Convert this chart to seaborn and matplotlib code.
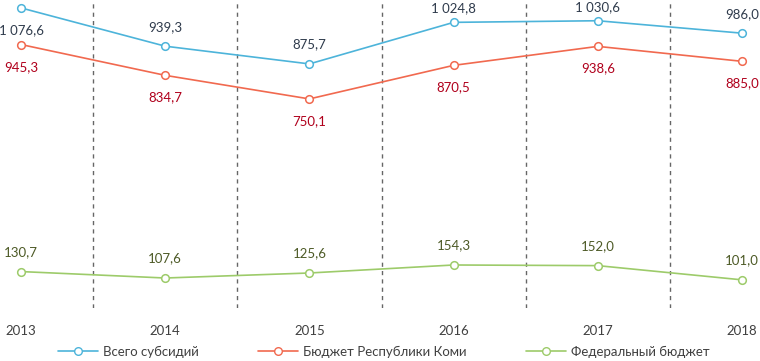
import matplotlib
matplotlib.use("Agg")
import matplotlib.pyplot as plt
import seaborn as sns
import pandas as pd
import numpy as np
from matplotlib.lines import Line2D

years = ["2013", "2014", "2015", "2016", "2017", "2018"]
total = [1076.6, 939.3, 875.7, 1024.8, 1030.6, 986.0]
komi = [945.3, 834.7, 750.1, 870.5, 938.6, 885.0]
federal = [130.7, 107.6, 125.6, 154.3, 152.0, 101.0]
series_names = ["Всего субсидий", "Бюджет Республики Коми", "Федеральный бюджет"]

line_colors = ["#4DB4DA", "#F1694F", "#9DCB6A"]
label_colors = ["#2F3B4C", "#B0001C", "#4D5A26"]

sns.set_theme(style="white")
plt.rcParams["font.family"] = ["Lato", "DejaVu Sans"]

rows = []
for name, vals in zip(series_names, [total, komi, federal]):
    for i, v in enumerate(vals):
        rows.append({"idx": i, "value": v, "series": name})
df = pd.DataFrame(rows)

fig = plt.figure(figsize=(7.6, 3.61), dpi=100)
ax = fig.add_axes([0, 1 - 308 / 361, 1, 308 / 361])

sns.lineplot(data=df, x="idx", y="value", hue="series", hue_order=series_names,
             palette=line_colors, marker="o", markersize=5.5, markerfacecolor="white",
             markeredgewidth=1.1, linewidth=1.2, ax=ax, legend=False)
for ln, c in zip(ax.lines, line_colors):
    ln.set_markeredgecolor(c)

ax.set_xlim(-21 / 144.2, 5 + 18 / 144.2)
ax.set_ylim(0, 1105)

for k in range(5):
    ax.axvline(k + 0.5, color="#666666", linestyle=(0, (3, 3)), linewidth=1, zorder=0)

def fmt(v):
    s = f"{v:,.1f}".replace(",", " ").replace(".", ",")
    return s

# label offsets in points (positive above)
offsets = {
    0: [-16, 14, 14, 10, 10, 14],
    1: [-16, -16, -16, -16, -16, -16],
    2: [14, 14, 14, 14, 14, 14],
}
for si, vals in enumerate([total, komi, federal]):
    for i, v in enumerate(vals):
        ax.annotate(fmt(v), (i, v), xytext=(0, offsets[si][i]), textcoords="offset points",
                    ha="center", va="center", fontsize=9.5, color=label_colors[si])

ax.set_xticks(range(len(years)))
ax.set_xticklabels(years, fontsize=9.5, color="#404040")
ax.tick_params(axis="x", length=0, pad=12)
ax.set_yticks([])
ax.set_xlabel("")
ax.set_ylabel("")
for sp in ax.spines.values():
    sp.set_visible(False)

handles = [Line2D([0], [0], color=c, marker="o", markerfacecolor="white",
                  markeredgecolor=c, markersize=5.5, linewidth=1.2) for c in line_colors]
fig.legend(handles, series_names, loc="center", bbox_to_anchor=(0.505, 1 - 352 / 361),
           ncol=3, frameon=False, fontsize=9.5, handlelength=3, columnspacing=4.5,
           handletextpad=0.4, labelcolor="#404040")

fig.savefig("out.png", dpi=100)
